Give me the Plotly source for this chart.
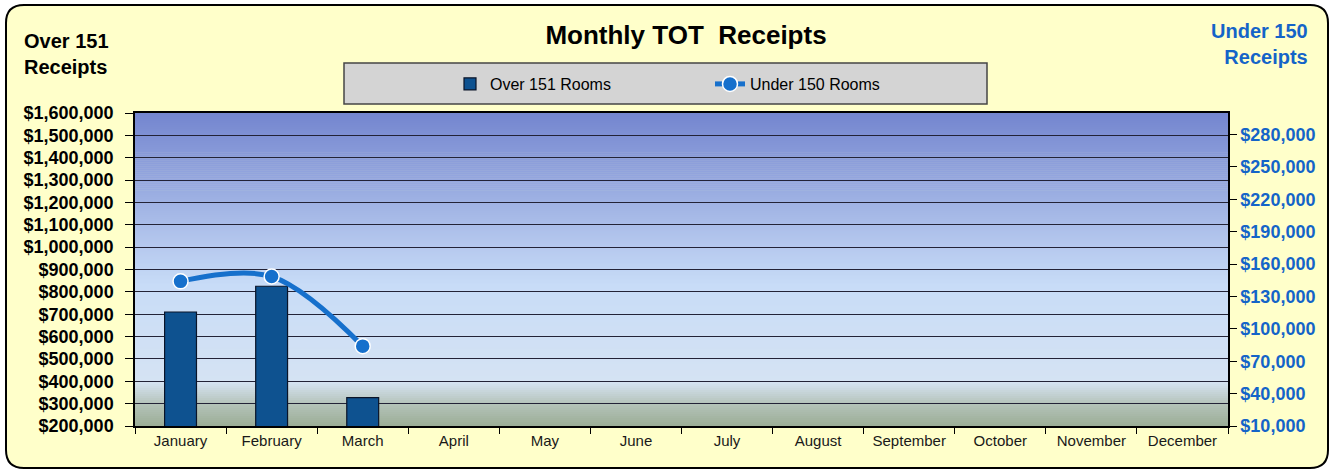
import plotly.graph_objects as go

# --- data ---
months = ["January", "February", "March", "April", "May", "June", "July",
          "August", "September", "October", "November", "December"]
over_151 = [710000, 825000, 327000, None, None, None, None, None, None, None, None, None]
under_150 = [144000, 148500, 84000, None, None, None, None, None, None, None, None, None]

# --- page geometry (pixels) ---
W, H = 1333, 472
ML, MR, MT, MB = 135, 105, 113, 46
PW, PH = W - ML - MR, H - MT - MB


def px(x):
    return (x - ML) / PW


def py(y):
    return (H - MB - y) / PH


def mix(c1, c2, t):
    return tuple(round(a + (b - a) * t) for a, b in zip(c1, c2))


# background gradient of the plot area (fraction from bottom, colour)
stops = [
    (0.00, (155, 173, 150)),
    (0.07, (180, 195, 185)),
    (0.14, (213, 227, 243)),
    (0.45, (200, 220, 247)),
    (1.00, (116, 134, 207)),
]


def grad(f):
    for (f0, c0), (f1, c1) in zip(stops, stops[1:]):
        if f0 <= f <= f1:
            return mix(c0, c1, (f - f0) / (f1 - f0))
    return stops[-1][1]


shapes = []

# rounded yellow frame
x0, y0, x1, y1, r = 6, 5, 1328, 468, 18
path = (
    f"M {px(x0 + r)} {py(y0)} L {px(x1 - r)} {py(y0)} "
    f"Q {px(x1)} {py(y0)} {px(x1)} {py(y0 + r)} "
    f"L {px(x1)} {py(y1 - r)} Q {px(x1)} {py(y1)} {px(x1 - r)} {py(y1)} "
    f"L {px(x0 + r)} {py(y1)} Q {px(x0)} {py(y1)} {px(x0)} {py(y1 - r)} "
    f"L {px(x0)} {py(y0 + r)} Q {px(x0)} {py(y0)} {px(x0 + r)} {py(y0)} Z"
)
shapes.append(dict(type="path", xref="paper", yref="paper", path=path,
                   fillcolor="rgb(255,255,202)", line=dict(color="black", width=2),
                   layer="below"))

# gradient bands
n = 157
for i in range(n):
    c = grad((i + 0.5) / n)
    shapes.append(dict(type="rect", xref="paper", yref="paper",
                       x0=0, x1=1, y0=i / n, y1=(i + 1) / n + 0.002,
                       fillcolor=f"rgb{c}", line=dict(width=0), layer="below"))

# legend box
shapes.append(dict(type="rect", xref="paper", yref="paper",
                   x0=px(344), x1=px(987), y0=py(104), y1=py(63),
                   fillcolor="rgb(212,212,212)",
                   line=dict(color="rgb(70,70,70)", width=1.5), layer="below"))

fig = go.Figure()
fig.add_trace(go.Bar(
    x=months, y=over_151, name="Over 151 Rooms", width=0.35,
    marker=dict(color="rgb(14,82,144)", line=dict(color="rgb(10,20,40)", width=1.2)),
))
fig.add_trace(go.Scatter(
    x=months, y=under_150, name="Under 150 Rooms", yaxis="y2",
    mode="lines+markers", line=dict(color="rgb(22,112,204)", width=5, shape="spline"),
    marker=dict(size=15, color="rgb(22,112,204)", line=dict(color="white", width=1.5)),
))

fig.update_layout(
    width=W, height=H,
    margin=dict(l=ML, r=MR, t=MT, b=MB),
    paper_bgcolor="white",
    plot_bgcolor="rgba(0,0,0,0)",
    font=dict(family="Liberation Sans, Arial, sans-serif", color="black"),
    title=dict(text="<b>Monthly TOT  Receipts</b>", xref="paper", x=px(686),
               xanchor="center", y=1 - 35 / H, yanchor="middle",
               font=dict(size=26, color="black")),
    shapes=shapes,
    showlegend=True,
    legend=dict(orientation="h", x=px(450), xanchor="left", y=py(84), yanchor="middle",
                bgcolor="rgba(0,0,0,0)", font=dict(size=16, color="black"),
                entrywidth=215, traceorder="normal"),
    xaxis=dict(
        type="category", categoryorder="array", categoryarray=months,
        range=[-0.5, 11.5],
        tickson="boundaries", ticks="outside", ticklen=6, tickcolor="black",
        showline=True, linecolor="black", linewidth=1.5, mirror=True,
        showgrid=False, tickfont=dict(size=15, color="rgb(25,25,25)"),
    ),
    yaxis=dict(
        range=[200000, 1600000], dtick=100000, tick0=200000,
        tickprefix="$", tickformat=",", ticks="outside", ticklen=8, tickcolor="black",
        ticklabelstandoff=8,
        showline=True, linecolor="black", linewidth=1.5,
        showgrid=True, gridcolor="rgb(35,35,55)", gridwidth=1,
        tickfont=dict(size=18, color="black", weight="bold"),
        zeroline=False,
    ),
    yaxis2=dict(
        overlaying="y", side="right", range=[10000, 300000],
        tick0=10000, dtick=30000, tickprefix="$", tickformat=",",
        ticks="outside", ticklen=7, tickcolor="black",
        showline=True, linecolor="black", linewidth=1.5,
        showgrid=False, zeroline=False,
        tickfont=dict(size=18, color="rgb(20,100,200)", weight="bold"),
    ),
    annotations=[
        dict(text="<b>Over 151<br>Receipts</b>", xref="paper", yref="paper",
             x=px(22), y=py(54), xanchor="left", yanchor="middle", align="left",
             showarrow=False, font=dict(size=20, color="black")),
        dict(text="<b>Under 150<br>Receipts</b>", xref="paper", yref="paper",
             x=px(1310), y=py(44), xanchor="right", yanchor="middle", align="right",
             showarrow=False, font=dict(size=20, color="rgb(20,100,200)")),
    ],
)

fig.write_html("out.html", config={"displayModeBar": False},
               post_script="document.body.style.margin='0';")
